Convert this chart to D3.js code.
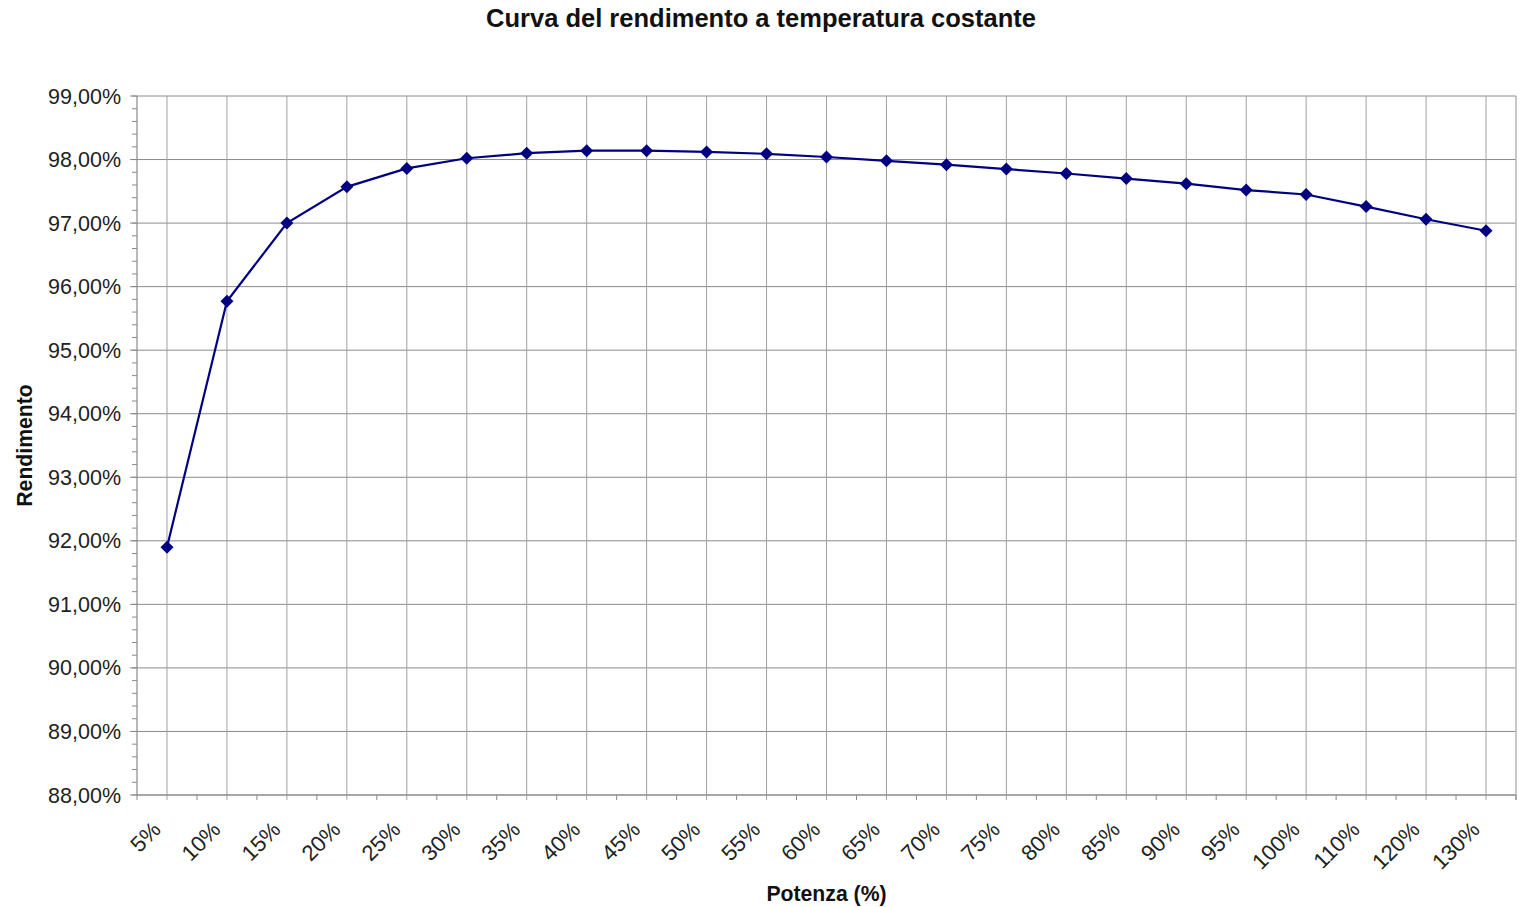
<!DOCTYPE html>
<html>
<head>
<meta charset="utf-8">
<script src="https://cdn.jsdelivr.net/npm/d3@7"></script>
<style>
  html, body { margin: 0; padding: 0; background: #fff; }
  svg { display: block; font-family: "Liberation Sans", Arial, sans-serif; }
</style>
</head>
<body>
<svg id="chart" width="1528" height="907"></svg>
<script>
const categories = ["5%","10%","15%","20%","25%","30%","35%","40%","45%","50%","55%","60%","65%","70%","75%","80%","85%","90%","95%","100%","110%","120%","130%"];
const efficiency = [91.90,95.77,97.00,97.57,97.86,98.02,98.10,98.14,98.14,98.12,98.09,98.04,97.98,97.92,97.85,97.78,97.70,97.62,97.52,97.45,97.26,97.06,96.88];
const yTicks = [88,89,90,91,92,93,94,95,96,97,98,99];

const title = "Curva del rendimento a temperatura costante";
const xTitle = "Potenza (%)";
const yTitle = "Rendimento";

const W = 1528, H = 907;
const m = {left: 137, right: 12, top: 96, bottom: 112};
const svg = d3.select("#chart");

const x = d3.scaleBand().domain(categories).range([m.left, W - m.right]).padding(0);
const y = d3.scaleLinear().domain([88, 99]).range([H - m.bottom, m.top]);
const bw = x.bandwidth();
const cx = c => x(c) + bw / 2;

const fmt = v => d3.format(".2f")(v).replace(".", ",") + "%";

// horizontal gridlines
svg.append("g").selectAll("line").data(yTicks).join("line")
  .attr("x1", m.left).attr("x2", W - m.right)
  .attr("y1", d => y(d)).attr("y2", d => y(d))
  .attr("stroke", "#8a8a8a").attr("stroke-width", 1);

// vertical gridlines at category centers (extending below axis as ticks)
svg.append("g").selectAll("line").data(categories).join("line")
  .attr("x1", cx).attr("x2", cx)
  .attr("y1", m.top).attr("y2", H - m.bottom + 5)
  .attr("stroke", "#a0a0a0").attr("stroke-width", 1);

// right border
svg.append("line")
  .attr("x1", W - m.right).attr("x2", W - m.right)
  .attr("y1", m.top).attr("y2", H - m.bottom + 5)
  .attr("stroke", "#b4b4b4").attr("stroke-width", 1.5);

// y axis
const yMinor = d3.range(88, 99.001, 0.2);
svg.append("g").selectAll("line").data(yMinor).join("line")
  .attr("x1", m.left - 5).attr("x2", m.left)
  .attr("y1", d => y(d)).attr("y2", d => y(d))
  .attr("stroke", "#8a8a8a");
svg.append("g").selectAll("line").data(yTicks).join("line")
  .attr("x1", m.left - 7).attr("x2", m.left)
  .attr("y1", d => y(d)).attr("y2", d => y(d))
  .attr("stroke", "#8a8a8a");
svg.append("line")
  .attr("x1", m.left).attr("x2", m.left)
  .attr("y1", m.top).attr("y2", H - m.bottom)
  .attr("stroke", "#8a8a8a").attr("stroke-width", 1.2);
svg.append("g").selectAll("text").data(yTicks).join("text")
  .attr("x", m.left - 16).attr("y", d => y(d))
  .attr("dy", "0.35em").attr("text-anchor", "end")
  .attr("font-size", 21.5).attr("fill", "#222")
  .text(fmt);

// x axis
svg.append("line")
  .attr("x1", m.left).attr("x2", W - m.right)
  .attr("y1", H - m.bottom).attr("y2", H - m.bottom)
  .attr("stroke", "#8a8a8a").attr("stroke-width", 1.2);
const bounds = categories.map(c => x(c)).concat([W - m.right]);
svg.append("g").selectAll("line").data(bounds).join("line")
  .attr("x1", d => d).attr("x2", d => d)
  .attr("y1", H - m.bottom).attr("y2", H - m.bottom + 5)
  .attr("stroke", "#8a8a8a");
svg.append("g").selectAll("text").data(categories).join("text")
  .attr("text-anchor", "end")
  .attr("font-size", 22).attr("fill", "#222")
  .attr("transform", d => `translate(${cx(d) - 5},${H - m.bottom + 36}) rotate(-45)`)
  .text(d => d);

// line + markers
const pts = categories.map((c, i) => [cx(c), y(efficiency[i])]);
svg.append("path")
  .attr("d", d3.line()(pts))
  .attr("fill", "none").attr("stroke", "#000080").attr("stroke-width", 2.2);
svg.append("g").selectAll("path").data(pts).join("path")
  .attr("transform", d => `translate(${d[0]},${d[1]})`)
  .attr("d", "M0,-6.5L6.5,0L0,6.5L-6.5,0Z")
  .attr("fill", "#000080");

// titles
svg.append("text").attr("x", 761).attr("y", 27)
  .attr("text-anchor", "middle").attr("font-size", 25.5).attr("font-weight", "bold")
  .attr("fill", "#111").text(title);
svg.append("text").attr("x", (m.left + W - m.right) / 2).attr("y", 901)
  .attr("text-anchor", "middle").attr("font-size", 21.2).attr("font-weight", "bold")
  .attr("fill", "#111").text(xTitle);
svg.append("text")
  .attr("transform", `translate(32,${(m.top + H - m.bottom) / 2}) rotate(-90)`)
  .attr("text-anchor", "middle").attr("font-size", 21.2).attr("font-weight", "bold")
  .attr("fill", "#111").text(yTitle);
</script>
</body>
</html>
